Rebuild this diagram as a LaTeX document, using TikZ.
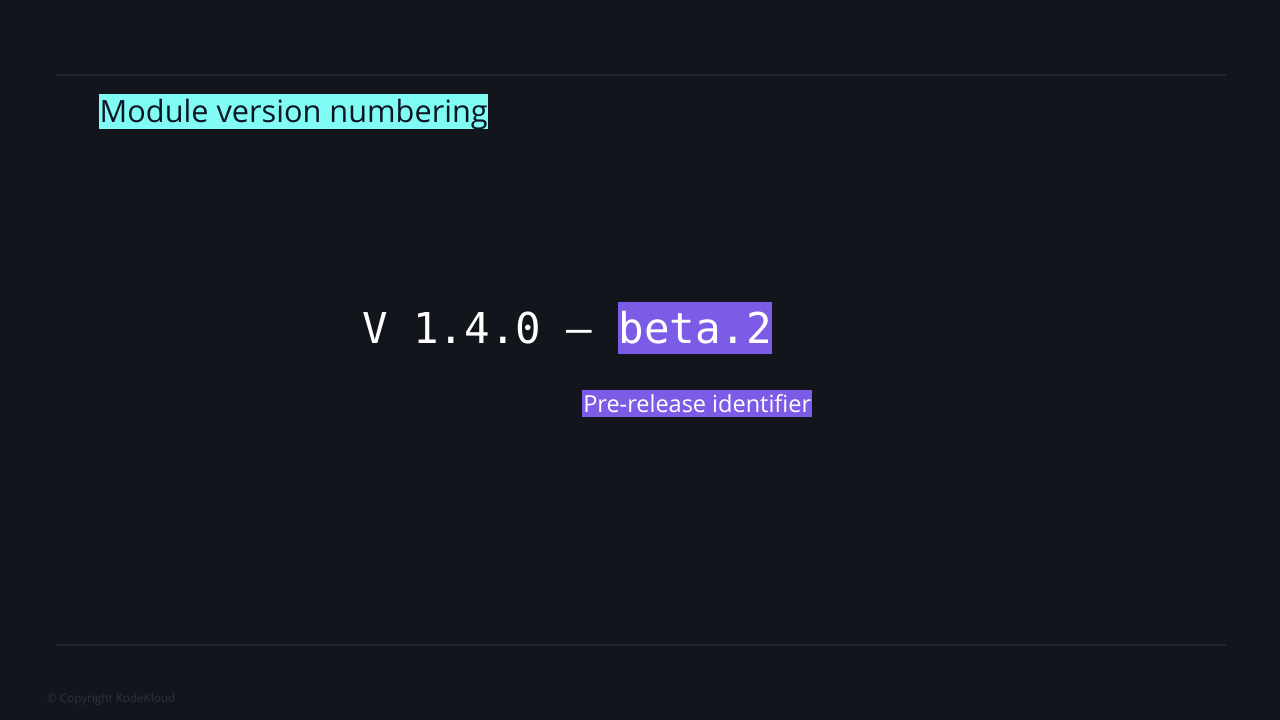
\documentclass[tikz,border=0pt]{standalone}
\usepackage{fontspec}
\setmainfont{Open Sans}
\newfontfamily\monofont{DejaVu Sans Mono}
\definecolor{bg}{HTML}{12161C}
\definecolor{rule}{HTML}{1F2530}
\definecolor{cyanbox}{HTML}{80FCF4}
\definecolor{purplebox}{HTML}{7C5CE6}
\definecolor{darktext}{HTML}{0B1622}
\definecolor{copy}{HTML}{2A343E}
\tikzset{
  hlbox/.style={inner xsep=0pt, anchor=north west},
  ruleline/.style={draw=rule, line width=1.5pt},
}
\begin{document}
\begin{tikzpicture}[x=1pt,y=-1pt]
\fill[bg] (0,0) rectangle (1280,720);
\useasboundingbox (0,0) rectangle (1280,720);
\coordinate (t1) at (57,75);
\coordinate (t2) at (1226,75);
\coordinate (b1) at (57,645);
\coordinate (b2) at (1226,645);
\draw[ruleline] (t1) -- (t2);
\draw[ruleline] (b1) -- (b2);
\node[hlbox, fill=cyanbox, text=darktext, minimum width=389pt, inner ysep=1.5pt,
  text height=26.5pt, text depth=5.5pt,
  font=\fontsize{30.7}{34}\selectfont] (title) at (99,94) {Module version numbering};
\node[inner sep=0pt, anchor=base west, text=white, font=\monofont\fontsize{42.5}{48}\selectfont]
  (ver) at (362,343) {V 1.4.0 –\ };
\node[hlbox, fill=purplebox, text=white, minimum width=154pt, inner ysep=0pt,
  text height=41pt, text depth=11pt,
  font=\monofont\fontsize{42.5}{48}\selectfont] (beta) at (618,302) {beta.2};
\node[hlbox, fill=purplebox, text=white, minimum width=230pt, inner ysep=1pt,
  text height=21.5pt, text depth=3.5pt,
  font=\fontsize{23.5}{26}\selectfont] (pre) at (582,390) {Pre-release identifier};
\node[inner sep=0pt, anchor=west, text=copy, font=\fontsize{11.7}{14}\selectfont]
  (copy) at (47,699) {© Copyright KodeKloud};
\end{tikzpicture}
\end{document}
